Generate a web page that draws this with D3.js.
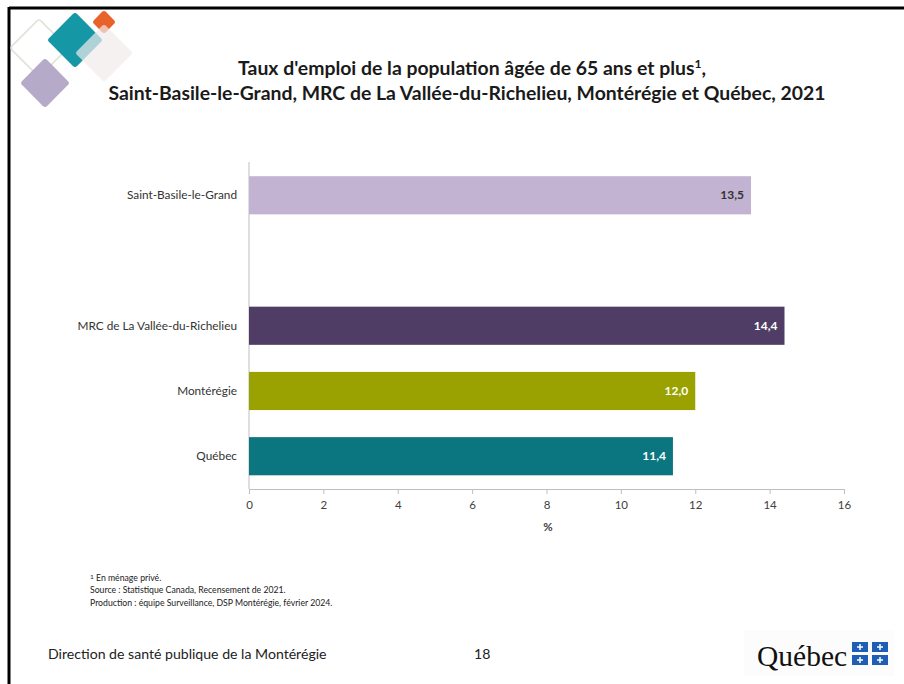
<!DOCTYPE html>
<html><head><meta charset="utf-8">
<script src="https://cdn.jsdelivr.net/npm/d3@7"></script>
<style>body{margin:0;background:#fff;} svg{display:block;}</style>
</head><body>
<script>
const categories = ["Saint-Basile-le-Grand", "", "MRC de La Vallée-du-Richelieu", "Montérégie", "Québec"];
const values = [13.5, null, 14.4, 12.0, 11.4];
const colors = ["#c2b3d3", "none", "#4f3d66", "#99a200", "#0b7580"];
const labelColors = ["#333333", "none", "#ffffff", "#ffffff", "#ffffff"];
const xTicks = [0, 2, 4, 6, 8, 10, 12, 14, 16];
const titleLines = ["Taux d'emploi de la population âgée de 65 ans et plus", "Saint-Basile-le-Grand, MRC de La Vallée-du-Richelieu, Montérégie et Québec, 2021"];
const notes = ["En ménage privé.", "Source : Statistique Canada, Recensement de 2021.", "Production : équipe Surveillance, DSP Montérégie, février 2024."];

const W = 904, H = 684;
const font = "Lato, 'Open Sans', sans-serif";
const svg = d3.select("body").append("svg").attr("width", W).attr("height", H);
svg.append("rect").attr("width", W).attr("height", H).attr("fill", "#fff");

// frame (top and left)
svg.append("line").attr("x1", 9).attr("x2", W).attr("y1", 8).attr("y2", 8).attr("stroke", "#000").attr("stroke-width", 3);
svg.append("line").attr("x1", 9).attr("x2", 9).attr("y1", 7).attr("y2", H).attr("stroke", "#000").attr("stroke-width", 3);

// decorative diamonds
const deco = svg.append("g");
function diamond(cx, cy, r, fill, stroke, op) {
  const s = r * Math.SQRT2;
  deco.append("rect").attr("x", -s/2).attr("y", -s/2).attr("width", s).attr("height", s).attr("rx", 3)
    .attr("transform", `translate(${cx},${cy}) rotate(45)`)
    .attr("fill", fill).attr("stroke", stroke || "none").attr("stroke-width", 1.5).attr("opacity", op == null ? 1 : op);
}
diamond(39, 48, 29, "none", "#dfe3d8");
diamond(75, 40, 28, "#1697a6");
diamond(104, 22, 12, "#e8632a");
diamond(104, 53, 29, "#efebe9", null, 0.7);
diamond(45, 83, 25, "#b5abc8");

// title
const title = svg.append("text").attr("x", 472).attr("y", 75).attr("text-anchor", "middle")
  .attr("font-family", font).attr("font-weight", "bold").attr("font-size", 19.4).attr("fill", "#1a1a1a");
title.append("tspan").text(titleLines[0]);
title.append("tspan").attr("baseline-shift", "super").attr("font-size", 12).text("1");
title.append("tspan").text(",");
svg.append("text").attr("x", 467).attr("y", 100).attr("text-anchor", "middle")
  .attr("font-family", font).attr("font-weight", "bold").attr("font-size", 19.4).attr("fill", "#1a1a1a").text(titleLines[1]);

// scales
const x = d3.scaleLinear().domain([0, 16]).range([249, 844]);
const y = d3.scaleBand().domain(d3.range(categories.length)).range([162.5, 489]).paddingInner(0.415).paddingOuter(0.21);

// axes
const xAxis = svg.append("g").attr("transform", "translate(0,489)")
  .call(d3.axisBottom(x).tickValues(xTicks).tickSize(5).tickSizeOuter(0).tickFormat(d3.format("d")));
xAxis.select(".domain").attr("stroke", "#bfbfbf");
xAxis.selectAll(".tick line").attr("stroke", "#bfbfbf");
xAxis.selectAll(".tick text").attr("font-family", font).attr("font-size", 11.5).attr("fill", "#404040").attr("dy", "1.05em");

svg.append("line").attr("x1", 249).attr("x2", 249).attr("y1", 162).attr("y2", 489).attr("stroke", "#bfbfbf");

svg.append("text").attr("x", 548).attr("y", 531).attr("text-anchor", "middle")
  .attr("font-family", font).attr("font-weight", "bold").attr("font-size", 11.5).attr("fill", "#404040").text("%");

// category labels
svg.selectAll(".cat").data(categories).enter().append("text")
  .attr("x", 237).attr("y", (d, i) => y(i) + y.bandwidth()/2).attr("dy", "0.35em").attr("text-anchor", "end")
  .attr("font-family", font).attr("font-size", 11.8).attr("fill", "#333").text(d => d);

// bars
const data = values.map((v, i) => ({v, i})).filter(d => d.v != null);
svg.selectAll(".bar").data(data).enter().append("rect")
  .attr("x", x(0)).attr("y", d => y(d.i)).attr("width", d => x(d.v) - x(0)).attr("height", y.bandwidth())
  .attr("fill", d => colors[d.i]);

svg.selectAll(".val").data(data).enter().append("text")
  .attr("x", d => x(d.v) - 7).attr("y", d => y(d.i) + y.bandwidth()/2).attr("dy", "0.35em").attr("text-anchor", "end")
  .attr("font-family", font).attr("font-weight", "bold").attr("font-size", 12).attr("fill", d => labelColors[d.i])
  .text(d => d3.format(".1f")(d.v).replace(".", ","));

// notes
const n0 = svg.append("text").attr("x", 90).attr("y", 581).attr("font-family", font).attr("font-size", 8.7).attr("fill", "#222");
n0.append("tspan").attr("font-size", 6.5).attr("dy", -2).text("1");
n0.append("tspan").attr("dy", 2).text(" " + notes[0]);
svg.append("text").attr("x", 90).attr("y", 593).attr("font-family", font).attr("font-size", 8.7).attr("fill", "#222").text(notes[1]);
svg.append("text").attr("x", 90).attr("y", 606).attr("font-family", font).attr("font-size", 8.7).attr("fill", "#222").text(notes[2]);

// footer
svg.append("text").attr("x", 48).attr("y", 659).attr("font-family", font).attr("font-size", 14.1).attr("fill", "#222").text("Direction de santé publique de la Montérégie");
svg.append("text").attr("x", 474).attr("y", 659).attr("font-family", font).attr("font-size", 14.1).attr("fill", "#222").text("18");

// Québec logo
svg.append("rect").attr("x", 744).attr("y", 630).attr("width", 150).attr("height", 46).attr("fill", "#fdfcfc");
svg.append("text").attr("x", 757).attr("y", 666).attr("font-family", "'Liberation Serif', serif").attr("font-size", 29.5).attr("fill", "#111").text("Québec");
const flag = svg.append("g");
[[852,642],[872,642],[852,655],[872,655]].forEach(([fx, fy]) => {
  flag.append("rect").attr("x", fx).attr("y", fy).attr("width", 16).attr("height", 10).attr("fill", "#1f5eb5");
  flag.append("path").attr("d", `M${fx+8},${fy+2}v6M${fx+5},${fy+5}h6`).attr("stroke", "#fff").attr("stroke-width", 1.5);
});
</script>
</body></html>
